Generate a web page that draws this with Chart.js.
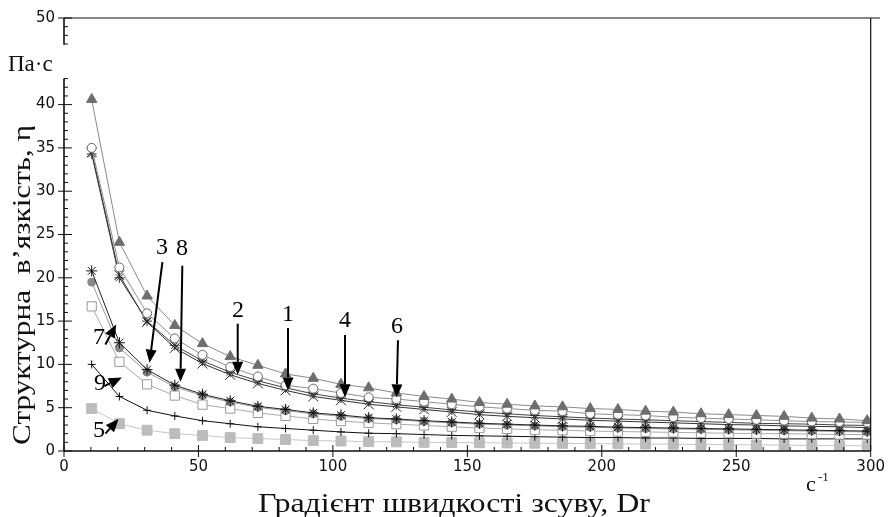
<!DOCTYPE html>
<html lang="uk">
<head>
<meta charset="UTF-8">
<title>Структурна в'язкість</title>
<style>
  html, body { margin: 0; padding: 0; background: #fff; }
  #wrap { width: 892px; height: 517px; position: relative; }
</style>
</head>
<body>
<div id="wrap"><canvas id="grafico" width="892" height="517"></canvas></div>
<script src="https://cdn.jsdelivr.net/npm/chart.js"></script>
<script>
// shear rate, 1/s
const gradient = [10.3, 20.6, 30.9, 41.2, 51.5, 61.8, 72.1, 82.4, 92.7, 103, 113.3, 123.6, 133.9, 144.2,
  154.5, 164.8, 175.1, 185.4, 195.7, 206, 216.3, 226.6, 236.9, 247.2, 257.5, 267.8, 278.1, 288.4, 298.7];

// viscosity, Pa*s
const triangles = [40.6, 24.1, 17.9, 14.5, 12.4, 10.9, 9.9, 8.9, 8.4, 7.7, 7.3, 6.7, 6.3, 6.0, 5.6,
  5.4, 5.2, 5.1, 4.9, 4.8, 4.6, 4.5, 4.3, 4.2, 4.1, 4.0, 3.8, 3.7, 3.5];
const circlesOpen = [35.0, 21.2, 15.9, 13.0, 11.1, 9.7, 8.6, 7.6, 7.2, 6.7, 6.2, 6.0, 5.7, 5.4, 5.1,
  4.9, 4.7, 4.6, 4.3, 4.2, 4.1, 3.9, 3.8, 3.7, 3.6, 3.5, 3.4, 3.35, 3.3];
const crosses = [34.5, 20.3, 14.9, 11.9, 10.1, 8.8, 7.8, 7.0, 6.3, 5.85, 5.4, 5.1, 4.8, 4.5, 4.2,
  4.0, 3.85, 3.7, 3.55, 3.45, 3.35, 3.25, 3.15, 3.05, 3.0, 2.9, 2.85, 2.8, 2.7];
const starsUpper = [34.3, 20.0, 15.0, 12.2, 10.4, 9.1, 8.1, 7.3, 6.6, 6.1, 5.7, 5.35, 5.05, 4.75, 4.5,
  4.3, 4.1, 3.95, 3.8, 3.7, 3.6, 3.5, 3.4, 3.3, 3.2, 3.15, 3.1, 3.0, 2.95];
const starsLower = [20.8, 12.5, 9.4, 7.6, 6.55, 5.8, 5.16, 4.8, 4.4, 4.15, 3.85, 3.7, 3.5, 3.35, 3.2,
  3.1, 3.0, 2.9, 2.85, 2.75, 2.7, 2.65, 2.6, 2.55, 2.5, 2.45, 2.4, 2.35, 2.3];
const circlesFilled = [19.5, 11.9, 9.1, 7.4, 6.4, 5.65, 5.05, 4.65, 4.3, 4.0, 3.75, 3.6, 3.4, 3.25, 3.1,
  3.0, 2.9, 2.8, 2.75, 2.65, 2.6, 2.55, 2.5, 2.45, 2.4, 2.35, 2.3, 2.25, 2.2];
const squaresOpen = [16.7, 10.3, 7.7, 6.4, 5.35, 4.9, 4.4, 4.05, 3.7, 3.45, 3.25, 3.1, 2.95, 2.8, 2.65,
  2.55, 2.45, 2.4, 2.3, 2.25, 2.2, 2.15, 2.1, 2.05, 2.0, 2.0, 1.95, 1.9, 1.9];
const pluses = [10.0, 6.3, 4.7, 4.05, 3.5, 3.15, 2.8, 2.6, 2.4, 2.2, 2.05, 2.0, 1.9, 1.8, 1.75,
  1.7, 1.65, 1.6, 1.55, 1.55, 1.5, 1.5, 1.45, 1.45, 1.45, 1.4, 1.4, 1.4, 1.4];
const squaresFilled = [4.9, 3.15, 2.4, 2.0, 1.8, 1.55, 1.43, 1.33, 1.2, 1.15, 1.08, 1.05, 1.0, 0.98, 0.95,
  0.93, 0.9, 0.88, 0.85, 0.83, 0.8, 0.78, 0.75, 0.73, 0.7, 0.68, 0.65, 0.62, 0.6];

const yTicks = [0, 5, 10, 15, 20, 25, 30, 35, 40, 50];
const xTicks = [0, 50, 100, 150, 200, 250, 300];

// curve numbers with arrows: label spot, arrow tail, arrow tip (data units)
const marcas = [
  { txt: '3', lx: 36.4, ly: 23.5, x0: 36.6, y0: 21.8, x1: 31.8, y1: 10.2 },
  { txt: '8', lx: 43.9, ly: 23.4, x0: 44.0, y0: 21.4, x1: 43.3, y1: 8.0 },
  { txt: '2', lx: 64.7, ly: 16.2, x0: 64.6, y0: 14.7, x1: 64.6, y1: 8.8 },
  { txt: '1', lx: 83.3, ly: 15.7, x0: 83.3, y0: 14.2, x1: 83.3, y1: 7.0 },
  { txt: '4', lx: 104.5, ly: 15.0, x0: 104.5, y0: 13.4, x1: 104.5, y1: 6.2 },
  { txt: '6', lx: 123.8, ly: 14.3, x0: 124.2, y0: 12.8, x1: 123.7, y1: 6.2 },
  { txt: '7', lx: 13.0, ly: 13.1, x0: 15.4, y0: 12.3, x1: 19.4, y1: 14.6 },
  { txt: '9', lx: 13.4, ly: 7.8, x0: 15.0, y0: 7.5, x1: 21.5, y1: 8.5 },
  { txt: '5', lx: 13.0, ly: 2.3, x0: 15.4, y0: 2.0, x1: 20.3, y1: 3.7 }
];

const serie = (dados, cfg) => Object.assign({
  data: dados.map((v, i) => ({ x: gradient[i], y: v })),
  borderWidth: 1,
  pointBorderWidth: 1,
  pointRadius: 5,
  tension: 0
}, cfg);

const eixos = {
  id: 'eixos',
  afterDraw(chart) {
    const { ctx, scales: { x, y } } = chart;
    const L = x.left, R = x.right, T = y.top, B = y.bottom;
    const seg = (a, b, c, d) => { ctx.beginPath(); ctx.moveTo(a, b); ctx.lineTo(c, d); ctx.stroke(); };
    ctx.save();
    ctx.strokeStyle = '#111';
    ctx.lineWidth = 1.6;
    seg(L, B, R, B);
    seg(L, T, L, y.getPixelForValue(46.9));
    seg(L, y.getPixelForValue(43), L, B);
    ctx.lineWidth = 1.2;
    seg(L, T, 880, T);
    seg(R, T, R, B);
    ctx.lineWidth = 1;
    for (let v = 0; v <= 50; v++) {
      if (v > 43 && v < 47) continue;
      const py = y.getPixelForValue(v);
      if (v % 5 === 0) seg(L - 6, py, L + 8, py);
      else seg(L, py, L + 4, py);
    }
    for (let v = 0; v <= 300; v += 10) {
      const px = x.getPixelForValue(v);
      if (v % 50 === 0) seg(px, B - 6, px, B + 6);
      else seg(px, B - 4, px, B);
    }

    // arrows and curve numbers
    ctx.fillStyle = '#000';
    ctx.strokeStyle = '#000';
    ctx.font = '24px "Liberation Serif", "Times New Roman", serif';
    ctx.textAlign = 'center';
    ctx.textBaseline = 'middle';
    marcas.forEach(m => {
      const ax = x.getPixelForValue(m.x0), ay = y.getPixelForValue(m.y0);
      const bx = x.getPixelForValue(m.x1), by = y.getPixelForValue(m.y1);
      const ang = Math.atan2(by - ay, bx - ax);
      const hl = 13, hw = 5.5;
      const cx = bx - hl * Math.cos(ang), cy = by - hl * Math.sin(ang);
      ctx.lineWidth = 2;
      seg(ax, ay, cx, cy);
      ctx.beginPath();
      ctx.moveTo(bx, by);
      ctx.lineTo(cx + hw * Math.sin(ang), cy - hw * Math.cos(ang));
      ctx.lineTo(cx - hw * Math.sin(ang), cy + hw * Math.cos(ang));
      ctx.closePath();
      ctx.fill();
      ctx.fillText(m.txt, x.getPixelForValue(m.lx), y.getPixelForValue(m.ly));
    });

    // titles
    const esticado = (txt, cx, cy, largura, rot) => {
      ctx.save();
      ctx.translate(cx, cy);
      if (rot) ctx.rotate(-Math.PI / 2);
      const w = ctx.measureText(txt).width;
      ctx.scale(largura / w, 1);
      ctx.fillText(txt, 0, 0);
      ctx.restore();
    };
    ctx.fillStyle = '#111';
    ctx.textBaseline = 'alphabetic';
    ctx.font = '26px "Liberation Serif", "Times New Roman", serif';
    esticado('Структурна  в\u2019язкість, η', 30, 285, 320, true);
    ctx.font = '28px "Liberation Serif", "Times New Roman", serif';
    esticado('Градієнт швидкості зсуву, Dr', 454, 512, 392, false);
    ctx.font = '23px "Liberation Serif", "Times New Roman", serif';
    ctx.textAlign = 'left';
    ctx.fillText('Па·с', 8, 71);
    ctx.font = '22px "Liberation Serif", "Times New Roman", serif';
    ctx.fillText('с', 806, 491);
    ctx.font = '13px "Liberation Serif", "Times New Roman", serif';
    ctx.fillText('-1', 818, 481);
    ctx.restore();
  }
};

new Chart(document.getElementById('grafico'), {
  type: 'line',
  data: {
    datasets: [
      serie(triangles, { pointStyle: 'triangle', pointRadius: 6, borderColor: '#8a8a8a', pointBorderColor: '#6e6e6e', pointBackgroundColor: '#6e6e6e' }),
      serie(circlesOpen, { pointStyle: 'circle', pointRadius: 4.5, borderColor: '#8f8f8f', pointBorderColor: '#666', pointBackgroundColor: '#fff' }),
      serie(crosses, { pointStyle: 'crossRot', pointRadius: 7, borderColor: '#333', pointBorderColor: '#222' }),
      serie(starsUpper, { pointStyle: 'star', pointRadius: 5, borderColor: '#444', pointBorderColor: '#333' }),
      serie(starsLower, { pointStyle: 'star', pointRadius: 5.5, borderColor: '#222', pointBorderColor: '#111' }),
      serie(circlesFilled, { pointStyle: 'circle', pointRadius: 4, borderColor: '#999', pointBorderColor: '#888', pointBackgroundColor: '#888' }),
      serie(squaresOpen, { pointStyle: 'rect', pointRadius: 6.5, borderColor: '#aaa', pointBorderColor: '#999', pointBackgroundColor: '#fff' }),
      serie(pluses, { pointStyle: 'cross', pointRadius: 4, borderColor: '#111', pointBorderColor: '#111' }),
      serie(squaresFilled, { pointStyle: 'rect', pointRadius: 7, borderColor: '#c6c6c6', pointBorderColor: '#bcbcbc', pointBackgroundColor: '#bcbcbc' })
    ]
  },
  options: {
    responsive: false,
    animation: false,
    events: [],
    layout: { padding: { left: 0, top: 18, right: 21, bottom: 0 } },
    plugins: { legend: { display: false }, tooltip: { enabled: false } },
    scales: {
      x: {
        type: 'linear', min: 0, max: 300,
        afterFit: s => { s.height = 66; },
        afterBuildTicks: s => { s.ticks = xTicks.map(v => ({ value: v })); },
        grid: { display: false, drawTicks: false },
        border: { display: false },
        ticks: { padding: 7, color: '#111', font: { family: 'DejaVu Sans', size: 15 }, maxRotation: 0, autoSkip: false }
      },
      y: {
        type: 'linear', min: 0, max: 50,
        afterFit: s => { s.width = 64; },
        afterBuildTicks: s => { s.ticks = yTicks.map(v => ({ value: v })); },
        grid: { display: false, drawTicks: false },
        border: { display: false },
        ticks: { padding: 9, color: '#111', font: { family: 'DejaVu Sans', size: 15 }, autoSkip: false }
      }
    }
  },
  plugins: [eixos]
});
</script>
</body>
</html>
